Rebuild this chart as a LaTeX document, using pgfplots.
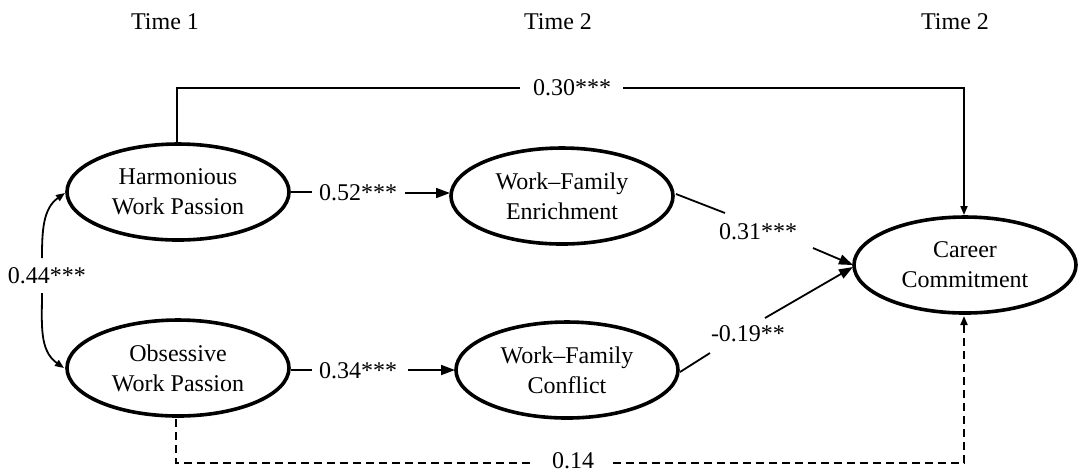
\documentclass[border=0pt]{standalone}
\usepackage{fontspec}
\setmainfont{Liberation Serif}
\usepackage{pgfplots}
\pgfplotsset{compat=1.18}
\usetikzlibrary{arrows.meta,shapes.geometric}
\begin{document}
\begin{tikzpicture}[font=\fontsize{12}{15}\selectfont,
  lat/.style={draw, ellipse, line width=1.8pt, minimum width=111pt, minimum height=48pt, align=center, inner sep=0pt},
  path/.style={black, line width=0.9pt},
  arr/.style={path, -{Triangle[length=7pt,width=5pt]}},
  sarr/.style={path, -{Triangle[length=4.5pt,width=3.5pt]}},
  darr/.style={black, line width=1pt, dash pattern=on 4pt off 2.5pt, -{Triangle[length=4.5pt,width=3.5pt]}},
  dpath/.style={black, line width=1pt, dash pattern=on 4pt off 2.5pt},
]
\begin{axis}[
  width=542pt, height=235.5pt, scale only axis,
  xmin=0, xmax=1084, ymin=0, ymax=471, y dir=reverse,
  hide axis, clip=false,
]
% column headings
\node at (axis cs:165,22) {Time 1};
\node at (axis cs:558,22) {Time 2};
\node at (axis cs:955,22) {Time 2};

% latent variables
\node[lat] at (axis cs:178,192) {Harmonious\\Work Passion};
\node[lat] at (axis cs:178,368) {Obsessive\\Work Passion};
\node[lat] at (axis cs:562,196) {Work\textendash Family\\Enrichment};
\node[lat] at (axis cs:567,370) {Work\textendash Family\\Conflict};
\node[lat] at (axis cs:965,265) {Career\\Commitment};

% HWP -> CC (top)
\addplot[path] coordinates {(177,142) (177,88) (520,88)};
\addplot[sarr] coordinates {(623,88) (964,88) (964,215)};
\node at (axis cs:572,88) {0.30***};

% HWP -> WFE
\addplot[path] coordinates {(291,192) (312,192)};
\node at (axis cs:358,193) {0.52***};
\addplot[arr] coordinates {(405,193) (450,193)};

% OWP -> WFC
\addplot[path] coordinates {(291,370) (312,370)};
\node at (axis cs:358,371) {0.34***};
\addplot[arr] coordinates {(408,370) (455,370)};

% WFE -> CC
\addplot[path] coordinates {(676,194) (725,213)};
\node at (axis cs:758,232) {0.31***};
\addplot[arr] coordinates {(813,248) (853,265)};

% WFC -> CC
\addplot[path] coordinates {(680,372) (710,353)};
\node at (axis cs:748,334) {-0.19**};
\addplot[arr] coordinates {(765,318) (853,267)};

% OWP -> CC (dashed, bottom)
\addplot[dpath] coordinates {(176,419) (176,463) (533,463)};
\addplot[darr] coordinates {(613,463) (964,463) (964,316)};
\node at (axis cs:573,461) {0.14};

% correlation
\draw[path, -{Triangle[length=4.5pt,width=3.5pt]}] (axis cs:42,258) to[out=90, in=215] (axis cs:65,193);
\draw[path, -{Triangle[length=4.5pt,width=3.5pt]}] (axis cs:42,293) to[out=-90, in=145] (axis cs:64,368);
\node at (axis cs:47,276) {0.44***};

\coordinate (bl) at (axis cs:0,471);
\coordinate (tr) at (axis cs:1084,0);
\end{axis}
\pgfresetboundingbox
\path[use as bounding box] (bl) rectangle (tr);
\end{tikzpicture}
\end{document}
